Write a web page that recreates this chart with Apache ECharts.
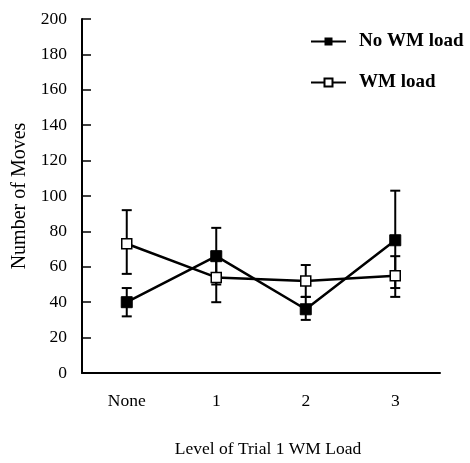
<!DOCTYPE html>
<html>
<head>
<meta charset="utf-8">
<script src="https://cdn.jsdelivr.net/npm/echarts@6/dist/echarts.min.js"></script>
<style>
  html, body { margin: 0; padding: 0; background: #fff; }
  #chart { width: 470px; height: 463px; }
</style>
</head>
<body>
<div id="chart"></div>
<script>
var categories = ['None', '1', '2', '3'];

// No WM load (filled squares)
var noLoadMean = [40, 66, 36, 75];
var noLoadLow = [32, 50, 30, 48];
var noLoadHigh = [48, 82, 43, 103];

// WM load (open squares)
var loadMean = [73, 54, 52, 55];
var loadLow = [56, 40, 43, 43];
var loadHigh = [92, 68, 61, 66];

var yTicks = [0, 200, 20];

var font = '"Liberation Serif", "Times New Roman", serif';

function errData(low, high) {
    return categories.map(function (c, i) { return [i, low[i], high[i]]; });
}

function errorBars(params, api) {
    var x = api.value(0);
    var lo = api.coord([x, api.value(1)]);
    var hi = api.coord([x, api.value(2)]);
    var cap = 5;
    var style = { stroke: '#000', lineWidth: 2 };
    return {
        type: 'group',
        children: [
            { type: 'line', shape: { x1: lo[0], y1: lo[1], x2: hi[0], y2: hi[1] }, style: style },
            { type: 'line', shape: { x1: lo[0] - cap, y1: lo[1], x2: lo[0] + cap, y2: lo[1] }, style: style },
            { type: 'line', shape: { x1: hi[0] - cap, y1: hi[1], x2: hi[0] + cap, y2: hi[1] }, style: style }
        ]
    };
}

var myChart = echarts.init(document.getElementById('chart'));
var option = {
    animation: false,
    backgroundColor: '#fff',
    grid: { left: 82, right: 30, top: 19, bottom: 85 },
    legend: {
        orient: 'vertical',
        left: 305,
        top: 27,
        itemGap: 22,
        itemWidth: 35,
        itemHeight: 10,
        textStyle: { fontFamily: font, fontSize: 19, fontWeight: 'bold', color: '#000', padding: [0, 0, 0, 8] },
        data: ['No WM load', 'WM load']
    },
    xAxis: {
        type: 'category',
        data: categories,
        boundaryGap: true,
        name: 'Level of Trial 1 WM Load',
        nameLocation: 'middle',
        nameGap: 67,
        nameTextStyle: { fontFamily: font, fontSize: 17.5, color: '#000', padding: [0, 0, 0, 14] },
        axisLine: { lineStyle: { color: '#000', width: 2 } },
        axisTick: { inside: true, alignWithLabel: true, length: 6, lineStyle: { color: '#000', width: 1.5 } },
        axisLabel: { fontFamily: font, fontSize: 17.5, color: '#000', margin: 19 },
        splitLine: { show: false }
    },
    yAxis: {
        type: 'value',
        min: yTicks[0],
        max: yTicks[1],
        interval: yTicks[2],
        name: 'Number of Moves',
        nameLocation: 'middle',
        nameGap: 49,
        nameTextStyle: { fontFamily: font, fontSize: 20, color: '#000' },
        axisLine: { show: true, lineStyle: { color: '#000', width: 2 } },
        axisTick: { show: true, inside: true, length: 9, lineStyle: { color: '#000', width: 1.5 } },
        axisLabel: { fontFamily: font, fontSize: 17.5, color: '#000', margin: 15 },
        splitLine: { show: false }
    },
    series: [
        {
            type: 'custom',
            renderItem: errorBars,
            data: errData(noLoadLow, noLoadHigh),
            z: 1,
            silent: true
        },
        {
            type: 'custom',
            renderItem: errorBars,
            data: errData(loadLow, loadHigh),
            z: 1,
            silent: true
        },
        {
            name: 'WM load',
            type: 'line',
            data: loadMean,
            symbol: 'rect',
            symbolSize: 10,
            z: 3,
            lineStyle: { color: '#000', width: 2.5 },
            itemStyle: { color: '#fff', borderColor: '#000', borderWidth: 1.5 }
        },
        {
            name: 'No WM load',
            type: 'line',
            data: noLoadMean,
            symbol: 'rect',
            symbolSize: 11,
            z: 4,
            lineStyle: { color: '#000', width: 2.5 },
            itemStyle: { color: '#000', borderColor: '#000' }
        }
    ]
};
myChart.setOption(option);
</script>
</body>
</html>
